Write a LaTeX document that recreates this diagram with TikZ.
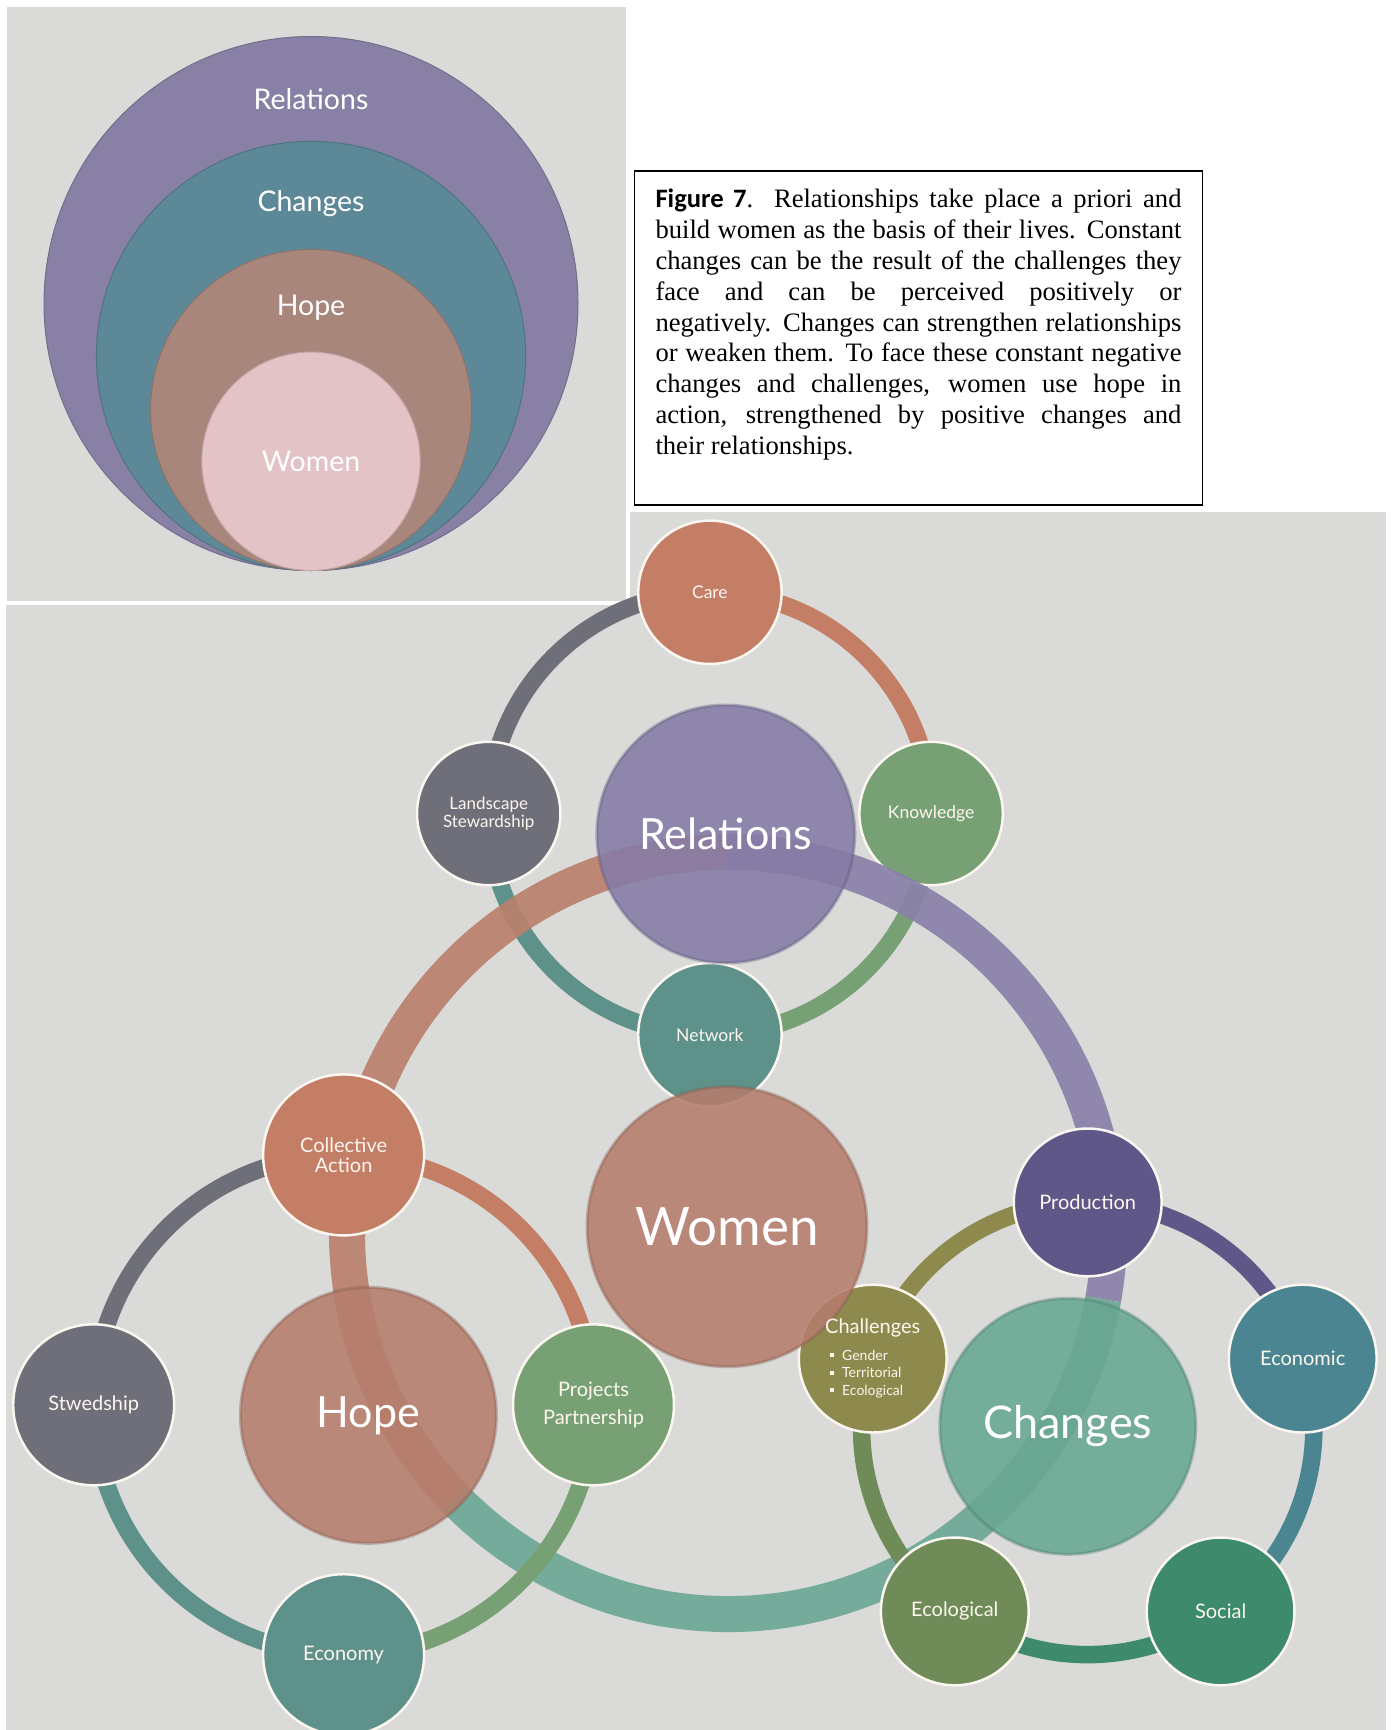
\documentclass[tikz,border=0pt]{standalone}
\usepackage{fontspec}
\setmainfont{Liberation Serif}
\newfontfamily\lato{Lato}
\newfontfamily\carlito{Carlito}
\usetikzlibrary{calc}
\definecolor{bg}{HTML}{DADAD8}
\definecolor{corange}{HTML}{C47E66}
\definecolor{cgreen}{HTML}{77A174}
\definecolor{cteal}{HTML}{5F918B}
\definecolor{cgray}{HTML}{6F6F79}
\definecolor{cprod}{HTML}{5F5787}
\definecolor{cecon}{HTML}{4A8591}
\definecolor{csoc}{HTML}{3D8A6C}
\definecolor{cecol}{HTML}{6F8B58}
\definecolor{cchal}{HTML}{8E8A4E}
\definecolor{brel}{HTML}{857BA6}
\definecolor{bwom}{HTML}{B57D6C}
\definecolor{bhope}{HTML}{B67D6B}
\definecolor{bchg}{HTML}{68A793}
\definecolor{bandor}{HTML}{BA816D}
\definecolor{bandpu}{HTML}{8A80AA}
\definecolor{bandte}{HTML}{6DA796}
\definecolor{prel}{HTML}{8980A5}
\definecolor{pchg}{HTML}{5C8897}
\definecolor{phope}{HTML}{A8867B}
\definecolor{pwom}{HTML}{E3C3C6}
\definecolor{txt}{HTML}{FDF6EE}
\definecolor{rim}{HTML}{FBF6EF}
\newcommand{\bul}{\raisebox{3pt}{\rule{4pt}{4pt}}\hspace{8pt}}
\newcommand{\chitem}[1]{\fontsize{14}{17.5}\selectfont\hspace*{5pt}\bul #1}
\begin{document}
\begin{tikzpicture}[x=1pt,y=1pt,
  sn/.style={circle, fill=#1, draw=rim, line width=2.5pt, inner sep=0pt, text=txt, align=center},
  sa/.style={sn=#1, minimum size=143.4pt, font=\lato\fontsize{17.5}{17.6}\selectfont},
  sb/.style={sn=#1, minimum size=161pt, font=\lato\fontsize{20}{20}\selectfont},
  sc/.style={sn=#1, minimum size=147.8pt, font=\lato\fontsize{20}{22}\selectfont},
  ringarc/.style={draw=#1, line width=17.5pt},
  bandarc/.style={draw=#1, line width=36pt, draw opacity=0.92},
  bigc/.style={circle, fill=#1, fill opacity=0.88, draw=#1!75!black, draw opacity=0.4, line width=3pt, text opacity=1, text=white, inner sep=0pt},
  pc/.style={circle, fill=#1, draw=#1!85!black, line width=1pt, inner sep=0pt},
  plabel/.style={text=white, inner sep=0pt, font=\lato\fontsize{28.5}{30}\selectfont},
  capline/.style={anchor=base west, inner sep=0pt, font=\fontsize{26.6}{30.9}\selectfont}
]
\fill[white] (0,0) rectangle (1391,-1730);
\useasboundingbox (0,0) rectangle (1391,-1730);
% panels
\fill[bg] (5.5,-512) rectangle (1385.5,-1730);
\filldraw[fill=bg, draw=white, line width=4.5pt] (5,-5) rectangle (628,-603);

% small panel: nested circles
\node[pc=prel, minimum size=534pt] (pr) at (311,-303.5) {};
\node[pc=pchg, minimum size=429.2pt] (pch) at (311,-355.9) {};
\node[pc=phope, minimum size=321pt] (ph) at (311,-410) {};
\node[pc=pwom, minimum size=218.4pt, plabel] (pw) at (311,-461.3) {Women};
\node[plabel] (lrel) at (311,-99.3) {Relations};
\node[plabel] (lchg) at (311,-204) {Changes};
\node[plabel] (lhope) at (311,-307.8) {Hope};

% caption box
\draw[line width=1.5pt, fill=white] (634.3,-171) rectangle (1202.4,-505.2);
\node[capline] (c1) at (655.3,-207.4) {\makebox[526pt][s]{{\carlito\bfseries Figure 7}. Relationships take place a priori and}};
\node[capline] (c2) at (655.3,-238.3) {\makebox[526pt][s]{build women as the basis of their lives. Constant}};
\node[capline] (c3) at (655.3,-269.2) {\makebox[526pt][s]{changes can be the result of the challenges they}};
\node[capline] (c4) at (655.3,-300.1) {\makebox[526pt][s]{face and can be perceived positively or}};
\node[capline] (c5) at (655.3,-331.0) {\makebox[526pt][s]{negatively. Changes can strengthen relationships}};
\node[capline] (c6) at (655.3,-361.9) {\makebox[526pt][s]{or weaken them. To face these constant negative}};
\node[capline] (c7) at (655.3,-392.8) {\makebox[526pt][s]{changes and challenges, women use hope in}};
\node[capline] (c8) at (655.3,-423.7) {\makebox[526pt][s]{action, strengthened by positive changes and}};
\node[capline] (c9) at (655.3,-454.6) {their relationships.};

% Relations cluster
\coordinate (rc) at (709.9,-813.5);
\draw[ringarc=corange] (rc) ++(90:221.2) arc[start angle=90, end angle=0, radius=221.2];
\draw[ringarc=cgreen] (rc) ++(0:221.2) arc[start angle=0, end angle=-90, radius=221.2];
\draw[ringarc=cteal] (rc) ++(-90:221.2) arc[start angle=-90, end angle=-180, radius=221.2];
\draw[ringarc=cgray] (rc) ++(180:221.2) arc[start angle=180, end angle=90, radius=221.2];
\node[sa=corange] (care) at (709.9,-592.3) {Care};
\node[sa=cgreen] (know) at (931.1,-813.5) {Knowledge};
\node[sa=cteal] (net) at (709.9,-1034.7) {Network};
\node[sa=cgray, font=\lato\fontsize{17}{17.6}\selectfont] (land) at (488.7,-813.5) {Landscape\\Stewardship};

% big band
\coordinate (bc) at (728,-1233);
\draw[bandarc=bandor] (bc) ++(224:381) arc[start angle=224, end angle=90, radius=381];
\draw[bandarc=bandpu] (bc) ++(90:381) arc[start angle=90, end angle=-10, radius=381];
\draw[bandarc=bandte] (bc) ++(-10:381) arc[start angle=-10, end angle=-136, radius=381];

% Hope cluster
\coordinate (hc) at (343.6,-1404.8);
\draw[ringarc=corange] (hc) ++(90:249.9) arc[start angle=90, end angle=0, radius=249.9];
\draw[ringarc=cgreen] (hc) ++(0:249.9) arc[start angle=0, end angle=-90, radius=249.9];
\draw[ringarc=cteal] (hc) ++(-90:249.9) arc[start angle=-90, end angle=-180, radius=249.9];
\draw[ringarc=cgray] (hc) ++(180:249.9) arc[start angle=180, end angle=90, radius=249.9];
\node[sb=corange] (coll) at (343.6,-1154.9) {Collective\\Action};
\node[sb=cgreen, font=\lato\fontsize{20}{28.6}\selectfont] (proj) at (593.5,-1404.8) {Projects\\Partnership};
\node[sb=cteal] (econ) at (343.6,-1654.7) {Economy};
\node[sb=cgray] (stw) at (93.7,-1404.8) {Stwedship};

% Changes cluster
\coordinate (cc) at (1087.7,-1428.5);
\draw[ringarc=cprod] (cc) ++(90:226.1) arc[start angle=90, end angle=18, radius=226.1];
\draw[ringarc=cecon] (cc) ++(18:226.1) arc[start angle=18, end angle=-54, radius=226.1];
\draw[ringarc=csoc] (cc) ++(-54:226.1) arc[start angle=-54, end angle=-126, radius=226.1];
\draw[ringarc=cecol] (cc) ++(-126:226.1) arc[start angle=-126, end angle=-198, radius=226.1];
\draw[ringarc=cchal] (cc) ++(162:226.1) arc[start angle=162, end angle=90, radius=226.1];
\node[sc=cprod] (prod) at (1087.7,-1202.4) {Production};
\node[sc=cecon] (ecnm) at (1302.7,-1358.6) {Economic};
\node[sc=csoc] (soc) at (1220.6,-1611.4) {Social};
\node[sc=cecol] (ecol) at (954.8,-1611.4) {Ecological};
\node[sc=cchal] (chal) at (872.7,-1358.6) {};

% big circles
\node[bigc=brel, minimum size=258pt, font=\lato\fontsize{43}{43}\selectfont] (Rel) at (725.8,-834) {Relations};
\node[bigc=bwom, minimum size=280pt, font=\lato\fontsize{53}{53}\selectfont] (Wom) at (727,-1226.7) {Women};
\node[bigc=bhope, minimum size=256pt, font=\lato\fontsize{43}{43}\selectfont] (Hop) at (368.4,-1415.3) {Hope};
\node[bigc=bchg, minimum size=256pt, font=\lato\fontsize{45}{45}\selectfont] (Chg) at (1067.8,-1426.3) {Changes};

% Challenges text
\node[text=txt, inner sep=0pt, font=\lato\fontsize{14}{17.5}\selectfont] (chaltext) at ($(chal)+(0,-1)$)
 {\begin{tabular}{@{}l@{}}
  \fontsize{20}{24}\selectfont Challenges\\[9pt]
  \chitem{Gender}\\
  \chitem{Territorial}\\
  \chitem{Ecological}
  \end{tabular}};
\end{tikzpicture}
\end{document}
